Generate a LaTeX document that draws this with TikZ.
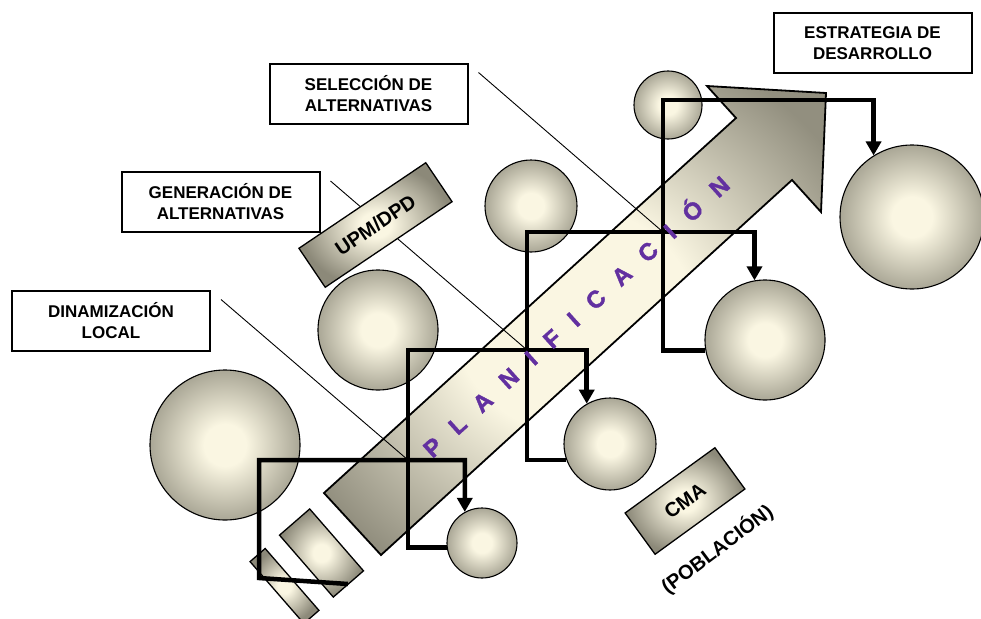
\documentclass[tikz,border=0pt]{standalone}
\usepackage{fontspec}
\setmainfont{Liberation Sans}
\newfontfamily\espaciada[LetterSpace=75,FakeBold=1.5]{Liberation Sans Bold}
\usetikzlibrary{calc,arrows.meta}
\definecolor{crema}{RGB}{250,246,226}
\definecolor{gris}{RGB}{170,167,150}
\definecolor{grisosc}{RGB}{140,137,121}
\definecolor{morado}{RGB}{98,48,160}
\pgfdeclareradialshading{bolaluz}{\pgfpointorigin}{color(0bp)=(crema); color(7bp)=(crema); color(25bp)=(gris); color(50bp)=(gris)}
\pgfdeclareradialshading{placaluz}{\pgfpointorigin}{color(0bp)=(crema); color(5bp)=(crema); color(25bp)=(grisosc); color(50bp)=(grisosc)}
\pgfdeclareradialshading{flechaluz}{\pgfpointorigin}{color(0bp)=(crema); color(12bp)=(crema); color(31bp)=(grisosc!80!gris); color(50bp)=(grisosc!80!gris)}

\begin{document}
\begin{tikzpicture}[x=1pt,y=-1pt,
    bola/.style={circle,draw,line width=1.1pt,inner sep=0pt,shading=bolaluz},
    placa/.style={draw,line width=1.3pt,inner sep=0pt,shading=placaluz,font=\fontsize{20}{24}\selectfont\bfseries},
    caja/.style={draw,line width=2pt,fill=white,align=center,minimum width=198pt,minimum height=60pt,inner sep=0pt,font=\fontsize{17}{21}\selectfont\bfseries},
    escalon/.style={line width=4.5pt,-{Triangle[length=14pt,width=15pt]}},
    guia/.style={line width=0.9pt}]
    \clip (0,0) rectangle (981,618);

    % bolas
    \node[bola,minimum size=150pt] (c1) at (225,445) {};
    \node[bola,minimum size=120pt] (c2) at (378,330) {};
    \node[bola,minimum size=92pt]  (c3) at (531,206) {};
    \node[bola,minimum size=68pt]  (c4) at (668,105) {};
    \node[bola,minimum size=70pt]  (c5) at (482,543) {};
    \node[bola,minimum size=92pt]  (c6) at (610,444) {};
    \node[bola,minimum size=120pt] (c7) at (765,340) {};
    \node[bola,minimum size=144pt] (c8) at (912,217) {};

    \node[placa,rotate=-49,minimum width=82pt,minimum height=40pt] (r1) at (321.5,553) {};
    \node[placa,rotate=-49,minimum width=82pt,minimum height=20pt] (r2) at (284.5,586) {};

    % flecha
    \draw[line width=1.8pt,line join=miter,shading=flechaluz]
      (324,493) -- (736,118) -- (707,86) -- (826,93) -- (821,212) -- (792,180) -- (381,555) -- cycle;

    \node[caja] (din) at (111,320.5) {DINAMIZACIÓN\\LOCAL};
    \node[caja] (gen) at (220.5,202) {GENERACIÓN DE\\ALTERNATIVAS};
    \node[caja] (sel) at (368.5,93.5) {SELECCIÓN DE\\ALTERNATIVAS};
    \node[caja] (est) at (872.5,43) {ESTRATEGIA DE\\DESARROLLO};

    \coordinate (k1) at (259,460);
    \coordinate (k2) at (408,350);
    \coordinate (k3) at (527,232);
    \coordinate (k4) at (663,100);
    \coordinate (p1s) at (348,584);

    \draw[guia] ($(din.north east)+(10,10)$) -- (k2 |- k1);
    \draw[guia] ($(gen.north east)+(10,10)$) -- (k3 |- k2);
    \draw[guia] ($(sel.north east)+(10,10)$) -- (k4 |- k3);

    \node[placa,rotate=34,minimum width=153pt,minimum height=47pt] (upm) at (375.5,225) {UPM/DPD};
    \node[placa,rotate=36,minimum width=111pt,minimum height=51pt] (cma) at (685,501) {CMA};
    \node[rotate=37,inner sep=0pt,font=\fontsize{20}{24}\selectfont\bfseries] (pob) at (717,549) {(POBLACIÓN)};

    % escalones
    \draw[escalon] (p1s) -- ++(-89,-6) -- (k1) -| (c5.119);
    \draw[escalon] (c5.187) -| (k2) -| (c6.120);
    \draw[escalon] (c6.200) -| (k3) -| (c7.100);
    \draw[escalon] (c7.190) -| (k4) -| (c8.122);

    \node[anchor=base,rotate=42.3,inner sep=0pt,text=morado,font=\espaciada\fontsize{24}{28}\selectfont] (plan) at (582,323) {PLANIFICACIÓN};
  \end{tikzpicture}
\end{document}
